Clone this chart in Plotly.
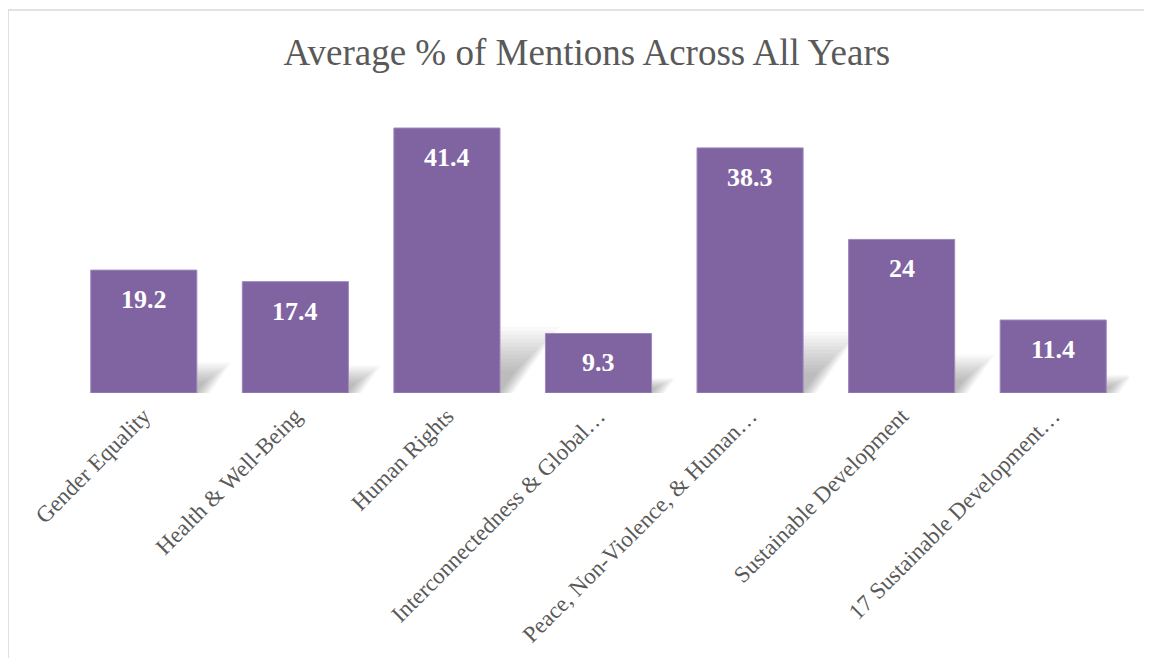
import plotly.graph_objects as go

categories = [
    "Gender Equality",
    "Health & Well-Being",
    "Human Rights",
    "Interconnectedness & Global…",
    "Peace, Non-Violence, & Human…",
    "Sustainable Development",
    "17 Sustainable Development…",
]
values = [19.2, 17.4, 41.4, 9.3, 38.3, 24, 11.4]
value_labels = ["19.2", "17.4", "41.4", "9.3", "38.3", "24", "11.4"]

BAR_COLOR = "#8064A2"
TEXT_GRAY = "#595959"
SERIF = "Liberation Serif, Times New Roman, serif"
BAR_W = 0.7
HALF = BAR_W / 2

fig = go.Figure()

fig.add_trace(go.Bar(
    x=list(range(len(categories))), y=values, width=BAR_W,
    marker=dict(color=BAR_COLOR, line=dict(color="#9E88BE", width=1)),
    showlegend=False,
))

# soft perspective shadows behind bars, derived from the values (drawn below traces)
N_LAYERS = 12
for i, v in enumerate(values):
    for k in range(N_LAYERS):
        s = 1.0 - 0.06 * k
        hs = 0.25 * v * s
        off = 0.0295 * hs
        ext = 0.008 * (N_LAYERS - 1 - k)
        pts = [(i - HALF, 0), (i + HALF + ext, 0),
               (i + HALF + off + ext, hs), (i - HALF + off, hs)]
        path = "M " + " L ".join(f"{x:.4f},{y:.4f}" for x, y in pts) + " Z"
        fig.add_shape(type="path", path=path, xref="x", yref="y",
                      fillcolor="rgba(0,0,0,0.024)", line=dict(width=0),
                      layer="below")

for i, (v, t) in enumerate(zip(values, value_labels)):
    fig.add_annotation(
        x=i, y=v, text=f"<b>{t}</b>", showarrow=False,
        yanchor="top", yshift=-13,
        font=dict(family=SERIF, size=26, color="white"),
    )

# chart border
fig.add_shape(type="rect", xref="paper", yref="paper",
              x0=-0.0565, x1=1.5, y0=-1.5, y1=1.33,
              line=dict(color="#d9d9d9", width=1.5), layer="below")

fig.update_layout(
    width=1144, height=650,
    margin=dict(l=60, r=23, t=97, b=265),
    paper_bgcolor="white", plot_bgcolor="white",
    title=dict(text="Average % of Mentions Across All Years",
               x=0.506, xanchor="center", y=1 - 44 / 650, yanchor="middle",
               font=dict(family=SERIF, size=37, color=TEXT_GRAY)),
    xaxis=dict(range=[-0.5, 6.5], tickvals=list(range(len(categories))),
               ticktext=categories, tickangle=-45, showgrid=False,
               zeroline=False, showline=False, ticks="",
               ticklabelstandoff=4, automargin=False,
               tickfont=dict(family=SERIF, size=23, color=TEXT_GRAY)),
    yaxis=dict(range=[0, 45], showticklabels=False, showgrid=False,
               zeroline=False, showline=False, automargin=False),
)

fig.write_html("out.html")
